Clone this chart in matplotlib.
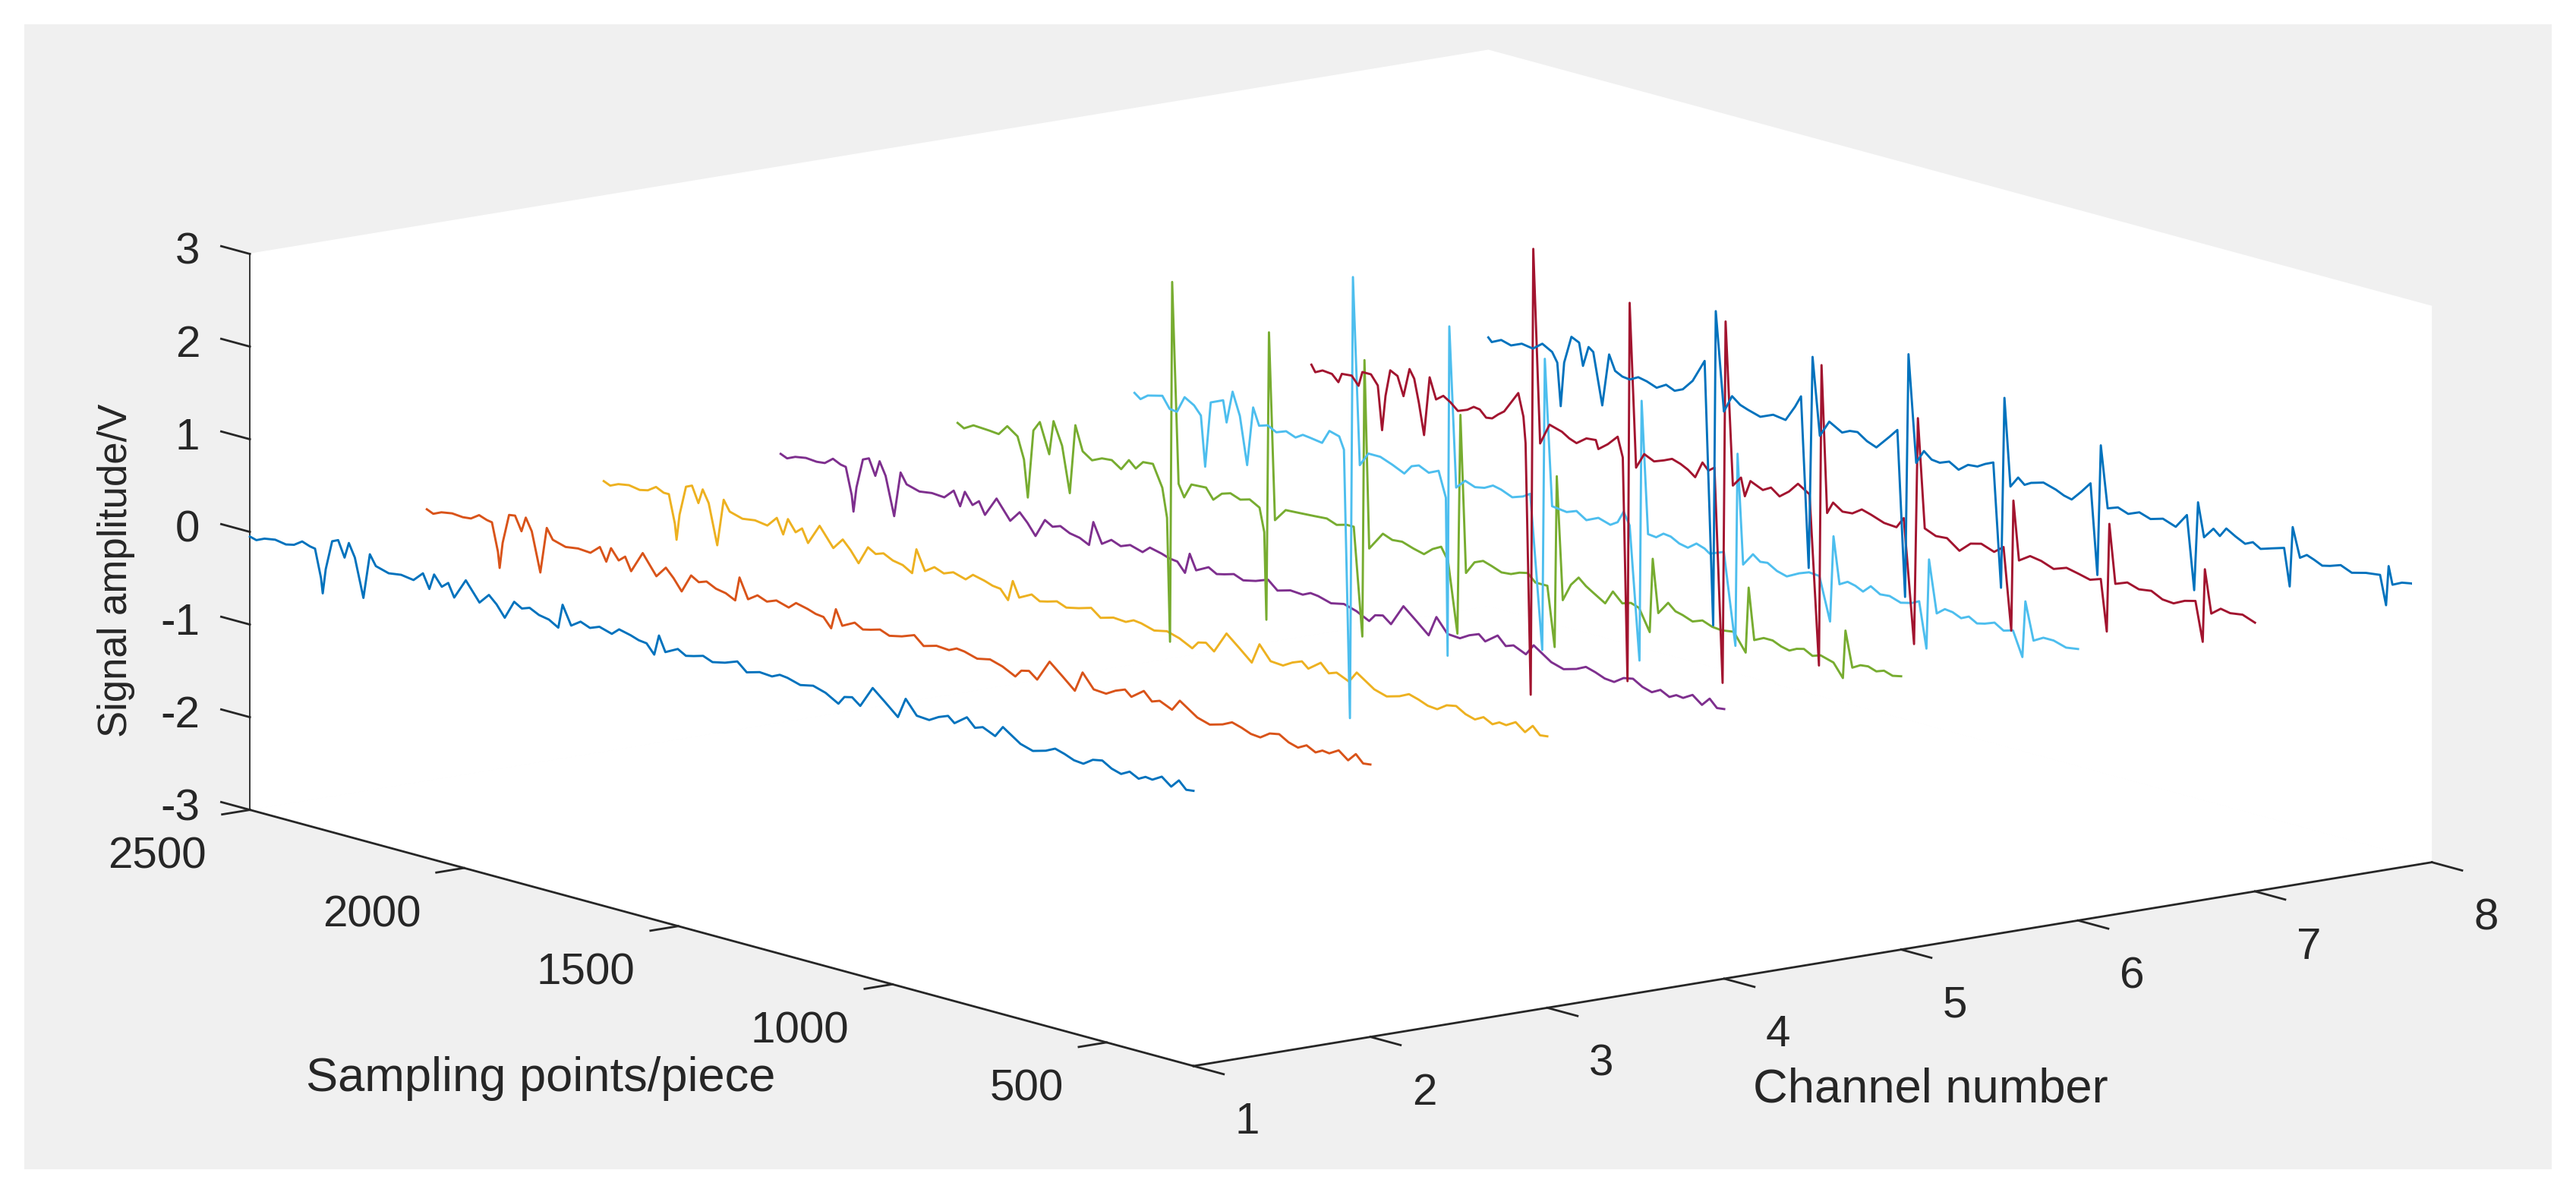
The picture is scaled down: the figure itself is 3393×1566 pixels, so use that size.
import matplotlib
matplotlib.use('Agg')
import matplotlib.pyplot as plt
from matplotlib.patches import Rectangle
from mpl_toolkits.mplot3d import proj3d

plt.rcParams['font.family'] = ['Liberation Sans', 'DejaVu Sans']
plt.rcParams['axes.unicode_minus'] = False

W, H = 3393, 1566

# channels 1-4 were read on the same sample positions
samples_low = [2500, 2485, 2466, 2441, 2416, 2397, 2378, 2360, 2348, 2334,
               2330, 2323, 2308, 2294, 2279, 2269, 2255, 2235, 2220, 2206,
               2176, 2147, 2118, 2096, 2081, 2070, 2052, 2037, 2023, 1996,
               1964, 1942, 1924, 1905, 1883, 1865, 1847, 1825, 1802, 1780,
               1770, 1750, 1728, 1706, 1684, 1655, 1638, 1611, 1592, 1574,
               1556, 1545, 1530, 1501, 1482, 1464, 1442, 1420, 1391, 1362,
               1340, 1310, 1281, 1263, 1245, 1215, 1185, 1156, 1126, 1112,
               1094, 1075, 1046, 1016, 987, 969, 943, 914, 892, 870,
               855, 826, 807, 789, 760, 742, 701, 672, 642, 620,
               598, 576, 554, 532, 510, 488, 466, 446, 425, 409,
               393, 371, 349, 331, 314, 297]

amp1 = [-.05, -.07, -.03, -.01, -.03, -.01, .05, .02, .01, -.29,
        -.45, -.18, .14, .17, 0, .17, .03, -.38, .11, 0,
        -.04, -.02, -.04, .06, -.09, .08, -.03, .03, -.11, .11,
        -.09, .02, -.06, -.18, .02, -.03, 0, -.05, -.07, -.13,
        .13, -.07, 0, -.04, 0, -.04, .03, 0, -.03, -.04,
        -.14, .08, -.08, -.01, -.06, -.04, -.01, -.05, -.02, .03,
        -.06, -.02, -.03, .01, 0, -.04, -.01, -.05, -.13, -.04,
        -.02, -.09, .14, .02, -.10, .12, -.03, -.04, .02, .06,
        0, .10, .01, .04, -.02, .10, -.03, -.07, -.03, .02,
        -.01, -.05, -.06, .01, .03, -.03, -.06, -.01, -.06, -.02,
        -.03, .03, -.05, .04, -.04, -.03]
amp2 = [-.07, -.10, -.06, -.04, -.05, -.04, .02, -.01, -.02, -.32,
        -.49, -.21, .11, .12, -.03, .13, 0, -.42, .08, -.03,
        -.07, -.05, -.06, .03, -.11, .05, -.06, 0, -.14, .09,
        -.12, 0, -.09, -.21, -.01, -.06, -.03, -.08, -.10, -.15,
        .11, -.10, -.03, -.07, -.03, -.07, 0, -.03, -.06, -.07,
        -.17, .05, -.11, -.04, -.09, -.07, -.04, -.08, -.05, 0,
        -.09, -.05, -.06, -.02, -.03, -.07, -.04, -.08, -.15, -.07,
        -.05, -.12, .11, -.01, -.13, .09, -.06, -.07, -.01, .03,
        -.03, .07, -.02, .01, -.05, .07, -.06, -.10, -.06, -.01,
        -.04, -.08, -.09, -.02, 0, -.06, -.09, -.04, -.09, -.05,
        -.06, 0, -.08, .01, -.07, -.06]
amp3 = [-.08, -.11, -.07, -.05, -.07, -.05, .01, -.03, -.03, -.33,
        -.50, -.22, .10, .13, -.04, .12, -.01, -.44, .07, -.04,
        -.08, -.06, -.08, .03, -.13, .05, -.07, -.01, -.15, .07,
        -.13, -.01, -.10, -.22, -.02, -.07, -.04, -.09, -.11, -.17,
        .10, -.11, -.04, -.08, -.04, -.08, -.01, -.04, -.07, -.08,
        -.18, .04, -.12, -.05, -.10, -.08, -.05, -.09, -.06, -.02,
        -.10, -.06, -.07, -.03, -.04, -.08, -.05, -.09, -.16, -.08,
        -.06, -.13, .10, -.02, -.14, .08, -.07, -.08, -.02, .02,
        -.04, .06, -.03, 0, -.06, .06, -.07, -.11, -.07, -.02,
        -.05, -.09, -.10, -.03, -.01, -.07, -.10, -.05, -.10, -.06,
        -.07, -.01, -.09, 0, -.08, -.07]
amp4 = [-.10, -.13, -.09, -.07, -.08, -.07, 0, -.04, -.05, -.34,
        -.51, -.24, .08, .11, -.06, .11, -.03, -.44, .05, -.06,
        -.10, -.08, -.09, .01, -.14, .03, -.09, -.03, -.16, .05,
        -.15, -.03, -.12, -.24, -.04, -.09, -.06, -.11, -.13, -.18,
        .08, -.13, -.06, -.10, -.06, -.10, -.03, -.06, -.09, -.10,
        -.20, .02, -.14, -.07, -.12, -.10, -.07, -.11, -.08, -.03,
        -.12, -.08, -.09, -.05, -.06, -.10, -.07, -.11, -.18, -.10,
        -.08, -.15, .08, -.04, -.16, .06, -.09, -.10, -.04, 0,
        -.06, .04, -.05, -.02, -.08, .04, -.09, -.13, -.09, -.04,
        -.07, -.11, -.12, -.05, -.03, -.09, -.12, -.07, -.12, -.08,
        -.09, -.03, -.11, -.02, -.10, -.09]

samples5 = [2500, 2485, 2463, 2426, 2404, 2384, 2360, 2345, 2336, 2323,
            2308, 2286, 2276, 2256, 2238, 2225, 2208, 2186, 2163, 2140, 2118,
            2100, 2084, 2067, 2044, 2022, 2011, 2004, 1999, 1984, 1971,
            1954, 1920, 1903, 1883, 1863, 1840, 1818, 1795, 1784, 1779, 1773, 1759,
            1734, 1699, 1666, 1638, 1615, 1592, 1575, 1555, 1550, 1539, 1507,
            1485, 1462, 1436, 1411, 1391, 1371, 1355, 1333, 1326, 1313, 1293, 1273, 1253,
            1230, 1208, 1188, 1169, 1151, 1123, 1106, 1101, 1087, 1068, 1050, 1033, 1016, 988,
            970, 948, 928, 909, 884, 877, 864, 841, 824, 807, 784, 761, 738, 716,
            688, 660, 653, 640, 618, 597, 577, 558, 541, 524, 504, 485, 455, 433,
            427, 411, 392, 374, 355, 337, 317, 297]
amp5 = [-.08, -.12, -.06, -.07, -.08, .03, -.05, -.28, -.68, .06,
        .17, -.15, .22, -.02, -.51, .24, -.02, -.09, -.04, -.03, -.10,
        .02, -.05, .04, .05, -.18, -.49, -1.82, 2.07, -.09, -.22,
        -.06, -.05, -.16, -.07, -.04, -.08, -.05, -.11, -.36, -1.30, 1.81, -.20,
        -.06, -.05, -.04, -.03, -.07, -.04, -.04, -1.20, 1.79, -.23, -.03,
        -.07, -.06, -.10, -.13, -.05, 0, -.13, -.89, 1.48, -.21, -.07, -.03, -.06,
        -.10, -.09, -.05, -.03, -.11, -.11, -.75, 1.10, -.22, -.03, .07, 0, -.05, -.13,
        .02, -.08, -.05, -.08, -.31, .49, -.08, .06, -.01, -.03, -.07, -.03, -.07, -.08,
        -.06, -.25, .46, -.09, -.04, -.04, -.08, -.10, -.06, -.04, -.09, -.06, -.10, -.24,
        .28, -.10, -.05, -.04, -.07, -.04, -.07, -.05]

samples6 = [2500, 2486, 2469, 2435, 2418, 2401, 2383, 2361, 2345, 2335,
            2322, 2293, 2285, 2271, 2254, 2237, 2223, 2209, 2189, 2169, 2146, 2124,
            2107, 2090, 2062, 2045, 2022, 2011, 1997, 1990, 1974, 1954, 1926,
            1898, 1870, 1853, 1836, 1813, 1790, 1773, 1769, 1765, 1749, 1728, 1705, 1683,
            1663, 1644, 1618, 1593, 1576, 1548, 1542, 1525, 1491, 1468, 1445, 1417, 1389, 1372,
            1358, 1344, 1321, 1316, 1301, 1282, 1265, 1248, 1228, 1208, 1188, 1169, 1157,
            1124, 1097, 1092, 1079, 1056, 1039, 1022, 1000, 977, 948, 925, 901, 876,
            868, 854, 835, 817, 799, 781, 759, 737, 711, 685, 668, 651, 645, 627,
            608, 590, 570, 552, 533, 515, 492, 471, 449, 427, 420, 401, 378, 354, 325, 297]
amp6 = [-.07, -.12, -.06, -.02, -.14, -.15, .03, -.03, -.12, -.66,
        .05, .11, -.12, .23, -.01, -.52, .12, -.06, -.03, -.08, -.04, -.08,
        -.03, -.04, -.06, .09, .06, -.07, -2.95, 1.82, -.19, -.04, -.04,
        -.09, -.15, -.05, -.02, -.07, -.02, -.29, -1.99, 1.57, -.15, -.05, -.09, -.07,
        -.02, -.04, -.09, -.05, 0, -1.65, 1.50, -.07, -.09, -.05, -.12, -.06, -.10, -.05,
        .08, -.05, -1.48, 1.33, -.09, -.10, -.04, -.05, -.10, -.12, -.05, -.08, -.12,
        -.06, -1.04, 1.04, -.14, 0, -.06, -.05, -.11, -.14, -.07, -.03, -.04, -.50,
        .43, -.07, -.02, -.04, -.08, 0, -.06, -.05, -.09, -.06, -.02, -.51, .46, -.10,
        -.03, -.04, -.08, -.04, -.09, -.07, -.03, -.09, -.06, -.32, .29, -.11, -.05, -.05, -.09, -.07]

samples7 = [2500, 2491, 2474, 2452, 2437, 2429, 2406, 2390, 2381, 2361,
            2345, 2335, 2327, 2316, 2299, 2285, 2271, 2260, 2249, 2237,
            2224, 2209, 2192, 2175, 2158, 2136, 2121, 2107, 2092, 2078, 2064, 2050, 2017, 2005,
            2000, 1988, 1982, 1966, 1944, 1915, 1898, 1881, 1858, 1836, 1830, 1808, 1785,
            1773, 1762, 1757, 1742, 1723, 1700, 1677, 1658, 1638, 1621, 1604, 1587, 1573, 1559,
            1540, 1533, 1516, 1497, 1488, 1475, 1446, 1427, 1407, 1385, 1364, 1337,
            1315, 1309, 1296, 1282, 1260, 1237, 1215, 1193, 1163, 1134, 1117, 1093, 1084,
            1068, 1042, 1016, 987, 961, 936, 906, 884, 866, 861, 848, 822, 796,
            767, 737, 708, 682, 657, 643, 637, 623, 595, 568, 539, 513, 487, 461, 436,
            419, 414, 399, 377, 355, 326, 297]
amp7 = [-.08, -.15, -.11, -.12, -.19, -.09, -.08, -.17, -.01, -.01,
        -.11, -.58, -.20, .09, .05, -.15, .16, .07, -.18, -.51,
        .13, -.09, -.03, -.08, -.15, -.11, -.06, -.07, -.14, -.13, -.07, -.02, .22, -.02,
        -.30, -3.0, 1.82, -.26, -.03, -.07, -.12, -.15, -.07, -.06, -.15, -.07, .04,
        -.17, -2.57, 1.52, -.24, -.07, -.12, -.08, -.04, -.07, -.11, -.17, .01, -.06, -.01,
        -2.31, 1.60, -.15, -.04, -.23, -.05, -.11, -.06, -.13, -.05, .06, -.02,
        -1.84, 1.41, -.17, -.04, -.11, -.10, -.03, -.06, -.11, -.12, 0, -1.33, 1.12,
        -.05, -.10, -.09, -.19, -.08, -.05, -.10, -.02, -.90, .51, -.12, -.04, -.06,
        -.11, -.06, -.09, -.12, -.08, -.63, .54, -.09, -.04, -.08, -.06, -.12, -.13, -.07, -.04,
        -.46, .33, -.13, -.05, -.07, -.05, -.10]

samples8 = [2500, 2492, 2470, 2447, 2422, 2396, 2374, 2351, 2339, 2331, 2323, 2306,
            2288, 2279, 2266, 2255, 2234, 2218, 2204, 2187, 2170, 2150, 2130, 2107, 2085,
            2065, 2046, 2023, 1995, 1975, 1969, 1950, 1931, 1912, 1894, 1865, 1835, 1806,
            1784, 1770, 1752, 1743, 1726, 1704, 1674, 1656, 1638, 1616, 1594, 1564,
            1545, 1527, 1519, 1501, 1483, 1465, 1446, 1424, 1402, 1380, 1358, 1340, 1321, 1303,
            1295, 1281, 1263, 1248, 1233, 1204, 1175, 1156, 1138, 1116, 1094, 1078, 1070, 1054,
            1030, 1006, 980, 954, 925, 895, 869, 852, 843, 829, 807, 792, 777,
            755, 733, 715, 697, 670, 642, 629, 622, 605, 589, 572, 553, 535,
            510, 484, 451, 418, 404, 398, 389, 367, 344, 320, 297]
amp8 = [-.10, -.14, -.09, -.12, -.07, -.09, -.01, -.07, -.17, -.63, -.15, .15,
        .11, -.13, .09, .05, -.50, .07, -.09, -.13, -.14, -.09, -.11, -.15, -.09,
        -.13, -.09, .03, .28, -2.55, .85, -.21, -.02, -.09, -.12, -.16, -.10, -.12,
        .05, .18, -1.65, .64, -.19, -.01, -.09, -.05, -.04, -.11, -.15, 0,
        .10, -1.68, .95, -.20, -.05, -.12, -.13, -.09, -.15, -.07, -.06, -.01, .03, -1.30,
        .76, -.18, -.06, -.12, -.08, -.04, -.08, -.12, -.14, -.03, .09, -.88, .53, -.13,
        -.09, -.13, -.08, -.12, -.08, -.13, .03, -.76, .20, -.16, -.04, -.10, 0,
        -.06, -.11, -.07, -.12, -.08, -.04, -.44, .21, -.10, -.05, -.08, -.12, -.10,
        -.06, -.11, -.07, -.05, -.36, .07, -.12, -.07, -.05, -.10, -.07]

channels = [1, 2, 3, 4, 5, 6, 7, 8]
sample_lists = [samples_low, samples_low, samples_low, samples_low,
                samples5, samples6, samples7, samples8]
amp_lists = [amp1, amp2, amp3, amp4, amp5, amp6, amp7, amp8]
colors = ['#0072BD', '#D95319', '#EDB120', '#7E2F8E',
          '#77AC30', '#4DBEEE', '#A2142F', '#0072BD']

channel_ticks = [1, 2, 3, 4, 5, 6, 7, 8]
sample_ticks = [500, 1000, 1500, 2000, 2500]
amp_ticks = [-3, -2, -1, 0, 1, 2, 3]

fig = plt.figure(figsize=(W / 100, H / 100), dpi=100, facecolor='white')
fig.add_artist(Rectangle((32 / W, 26 / H), 3329 / W, 1508 / H, transform=fig.transFigure,
                         facecolor='#f0f0f0', edgecolor='none', zorder=-5))

ax = fig.add_axes([0, 0, 1, 1], projection='3d', proj_type='ortho')
ax.set_facecolor('none')
ax.view_init(elev=12.2, azim=-127.9)
ax.set_box_aspect((2067, 2023, 749))

for c, s, a, col in zip(channels, sample_lists, amp_lists, colors):
    ax.plot([c] * len(s), s, a, color=col, lw=2.1)

ax.set_xlim(1, 8, view_margin=0)
ax.set_ylim(297, 2500, view_margin=0)
ax.set_zlim(-3, 3, view_margin=0)
ax.set_xticks(channel_ticks)
ax.set_yticks(sample_ticks)
ax.set_zticks(amp_ticks)
ax.grid(False)

# mplot3d's inward/outward are swapped for the two floor axes at this view
for axis, tick_in, tick_out in ((ax.xaxis, 0.4, 0), (ax.yaxis, 0.28, 0), (ax.zaxis, 0, 0.38)):
    axis.set_pane_color((1, 1, 1, 1))
    axis.pane.set_edgecolor('white')
    axis.line.set_color('#262626')
    axis.line.set_linewidth(2.0)
    axis._axinfo['tick']['inward_factor'] = tick_in
    axis._axinfo['tick']['outward_factor'] = tick_out
    axis._axinfo['tick']['linewidth'] = {True: 2.0, False: 1.0}
    axis._axinfo['tick']['color'] = '#404040'
ax.zaxis.line.set_linewidth(1.3)

# matlab draws the z ticks along the sample direction
ax.zaxis._get_tickdir = lambda position: 1

ax.tick_params(axis='x', labelsize=42, colors='#262626', pad=40)
ax.tick_params(axis='y', labelsize=42, colors='#262626', pad=30)
ax.tick_params(axis='z', labelsize=42, colors='#262626', pad=17)
plt.setp(ax.get_xticklabels(), ha='left')
plt.setp(ax.get_yticklabels(), ha='right')
plt.setp(ax.get_zticklabels(), ha='right', va='center')

fig.text(2543 / W, 1 - 1435 / H, 'Channel number', fontsize=45.5, color='#262626', ha='center', va='center')
fig.text(712 / W, 1 - 1420 / H, 'Sampling points/piece', fontsize=45.5, color='#262626', ha='center', va='center')
fig.text(153 / W, 1 - 751 / H, 'Signal amplitude/V', fontsize=38, color='#262626', rotation=90, ha='center', va='center')

# put the box corners where they are in the picture
M = ax.get_proj()
x_near, y_near, _ = proj3d.proj_transform(1, 297, -3, M)
x_right, _, _ = proj3d.proj_transform(8, 297, -3, M)
x_left, _, _ = proj3d.proj_transform(1, 2500, -3, M)
k = (3203 - 329) / (x_right - x_left)
x0, x1, y0 = ax.viewLim.x0, ax.viewLim.x1, ax.viewLim.y0
S = k * (x1 - x0)
left = 1572 - k * (x_near - x0)
bottom = (H - 1404) - k * (y_near - y0)
ax.set_position([left / W, bottom / H, S / W, S / H])

fig.savefig('out.png', dpi=100)
